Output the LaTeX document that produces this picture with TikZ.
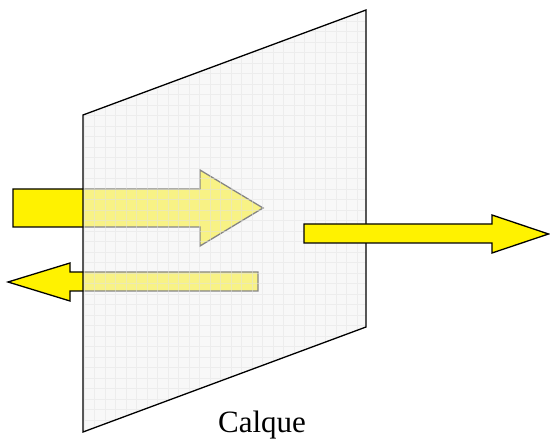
\documentclass[tikz,border=0pt]{standalone}
\usepackage{fontspec}
\setmainfont{Liberation Serif}
\usepackage{xcolor}
\usepackage{tikz}
\usetikzlibrary{positioning}

\definecolor{calquefond}{RGB}{243,243,243}
\definecolor{calquegrille}{RGB}{226,226,226}
\tikzset{
  fleche/.style={fill=yellow, draw=black, line width=1.3pt, line join=miter},
  calque/.style={fill=calquefond, fill opacity=0.55},
  grille/.style={draw=calquegrille, draw opacity=0.5, line width=0.5pt},
  bord/.style={draw=black, line width=1.3pt}
}

\begin{document}
\begin{tikzpicture}[x=1pt, y=-1pt]
      \useasboundingbox (0,0) rectangle (550,441);
      % coins du calque
      \coordinate (HG) at (83,115);
      \coordinate (HD) at (366,10);
      \coordinate (BD) at (366,327);
      \coordinate (BG) at (83,432);
      % fleches derriere le calque
      \draw[fleche] (13,189) -- (200,189) -- (200,170) -- (263,208)
        -- (200,246) -- (200,227) -- (13,227) -- cycle;
      \draw[fleche] (258,272) -- (70,272) -- (70,263) -- (8,282)
        -- (70,301) -- (70,291) -- (258,291) -- cycle;
      % le calque
      \fill[calque] (HG) -- (HD) -- (BD) -- (BG) -- cycle;
      \begin{scope}
        \clip (HG) -- (HD) -- (BD) -- (BG) -- cycle;
        \draw[grille] (80,0) grid[step=10.5pt] (370,441);
      \end{scope}
      \draw[bord] (HG) -- (HD) -- (BD) -- (BG) -- cycle;
      % fleche devant le calque
      \draw[fleche] (304,224) -- (492,224) -- (492,215) -- (548.5,234)
        -- (492,253) -- (492,243) -- (304,243) -- cycle;
      \node[anchor=base, inner sep=0pt, font=\fontsize{31}{36}\selectfont] (nom) at (262,433) {Calque};
    \end{tikzpicture}
\end{document}
